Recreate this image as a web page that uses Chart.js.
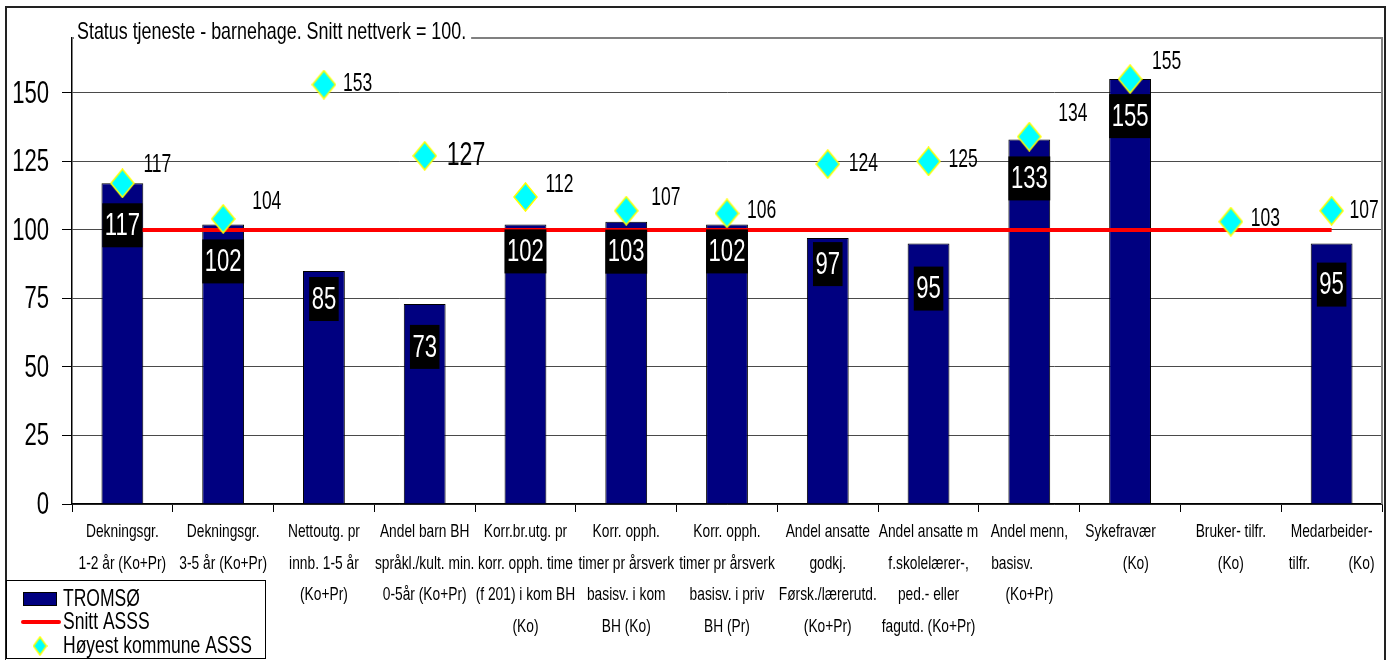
<!DOCTYPE html>
<html>
<head>
<meta charset="utf-8">
<title>Status tjeneste - barnehage</title>
<script src="https://cdn.jsdelivr.net/npm/chart.js@4.4.1/dist/chart.umd.min.js"></script>
<style>
  html, body { margin: 0; padding: 0; background: #fff; }
  canvas { display: block; }
</style>
</head>
<body>
<canvas id="barChart" width="1395" height="660"></canvas>
<script>
const categories = [
  ["Dekningsgr.", "1-2 år (Ko+Pr)"],
  ["Dekningsgr.", "3-5 år (Ko+Pr)"],
  ["Nettoutg. pr", "innb. 1-5 år", "(Ko+Pr)"],
  ["Andel barn BH", "språkl./kult. min.", "0-5år (Ko+Pr)"],
  ["Korr.br.utg. pr", "korr. opph. time", "(f 201) i kom BH", "(Ko)"],
  ["Korr. opph.", "timer pr årsverk", "basisv. i kom", "BH (Ko)"],
  ["Korr. opph.", "timer pr årsverk", "basisv. i priv", "BH (Pr)"],
  ["Andel ansatte", "godkj.", "Førsk./lærerutd.", "(Ko+Pr)"],
  ["Andel ansatte m", "f.skolelærer-,", "ped.- eller", "fagutd. (Ko+Pr)"],
  ["Andel menn,", "basisv.         ", "(Ko+Pr)"],
  ["Sykefravær     ", "   (Ko)"],
  ["Bruker- tilfr.", "(Ko)"],
  ["Medarbeider-", "tilfr.          (Ko)"]
];
const tromso = [117, 102, 85, 73, 102, 103, 102, 97, 95, 133, 155, null, 95];
const snittAsss = [100, 100, 100, 100, 100, 100, 100, 100, 100, 100, 100, 100, 100];
const hoyestAsss = [117, 104, 153, 127, 112, 107, 106, 124, 125, 134, 155, 103, 107];
const yTicks = [0, 25, 50, 75, 100, 125, 150];

const FONT = '"Liberation Sans", Arial, sans-serif';

// tall, narrow lettering like the original (Arial squeezed horizontally)
function narrowText(ctx, text, x, y, size, sx, align, color) {
  ctx.save();
  ctx.font = size + "px " + FONT;
  ctx.fillStyle = color;
  ctx.textAlign = align;
  ctx.textBaseline = "middle";
  ctx.translate(x, y);
  ctx.scale(sx, 1);
  ctx.fillText(text, 0, 0);
  ctx.restore();
}
function narrowWidth(ctx, text, size, sx) {
  ctx.save();
  ctx.font = size + "px " + FONT;
  const w = ctx.measureText(text).width * sx;
  ctx.restore();
  return w;
}

// cyan diamond with yellow edge, a little taller than wide
function makeDiamond(w, h) {
  const c = document.createElement("canvas");
  c.width = w;
  c.height = h;
  const g = c.getContext("2d");
  g.beginPath();
  g.moveTo(w / 2, 1);
  g.lineTo(w - 1, h / 2);
  g.lineTo(w / 2, h - 1);
  g.lineTo(1, h / 2);
  g.closePath();
  g.fillStyle = "#00ffff";
  g.fill();
  g.strokeStyle = "#ffff00";
  g.lineWidth = 1.5;
  g.stroke();
  return c;
}
const diamond = makeDiamond(25, 30);
const smallDiamond = makeDiamond(15, 20);

const decorations = {
  id: "decorations",
  beforeDraw(chart) {
    const ctx = chart.ctx;
    ctx.save();
    ctx.fillStyle = "#fff";
    ctx.fillRect(0, 0, chart.width, chart.height);
    ctx.restore();
  },
  beforeDatasetsDraw(chart) {
    const ctx = chart.ctx;
    const a = chart.chartArea;
    ctx.save();
    ctx.strokeStyle = "#808080";
    ctx.lineWidth = 2;
    ctx.beginPath();
    ctx.moveTo(a.left, a.top);
    ctx.lineTo(a.right, a.top);
    ctx.lineTo(a.right, a.bottom);
    ctx.stroke();
    ctx.restore();
  },
  afterDatasetsDraw(chart, args, opts) {
    const ctx = chart.ctx;
    // bar values in black boxes
    chart.getDatasetMeta(0).data.forEach((bar, i) => {
      const v = tromso[i];
      if (v === null) return;
      const txt = String(v);
      const w = narrowWidth(ctx, txt, 32, 0.69) + 5;
      const cy = bar.y + opts.boxDrop[i];
      ctx.fillStyle = "#000";
      ctx.fillRect(bar.x - w / 2, cy - 22, w, 44);
      narrowText(ctx, txt, bar.x, cy + 1, 32, 0.69, "center", "#fff");
    });
    // values next to the diamonds
    chart.getDatasetMeta(2).data.forEach((p, i) => {
      const size = i === 3 ? 33 : 25;
      narrowText(ctx, String(hoyestAsss[i]), p.x + opts.labelDx[i], p.y + opts.labelDy[i], size, 0.7, "left", "#000");
    });
  },
  afterDraw(chart) {
    const ctx = chart.ctx;
    const xs = chart.scales.x;
    const ys = chart.scales.y;
    // category labels, one line under the other
    categories.forEach((lines, i) => {
      const x = xs.getPixelForValue(i);
      lines.forEach((t, k) => narrowText(ctx, t, x, 532 + k * 31.5, 19, 0.725, "center", "#000"));
    });
    // value axis labels
    yTicks.forEach(v => narrowText(ctx, String(v), 49, ys.getPixelForValue(v) + 1, 32, 0.69, "right", "#000"));

    ctx.save();
    // outer frame
    ctx.strokeStyle = "#222";
    ctx.lineWidth = 2;
    ctx.strokeRect(6, 7, 1379, 660);
    // title sitting on the plot frame
    const title = "Status tjeneste - barnehage. Snitt nettverk = 100.";
    const tw = narrowWidth(ctx, title, 24, 0.745);
    ctx.fillStyle = "#fff";
    ctx.fillRect(74, 20, tw + 8, 22);
    ctx.restore();
    narrowText(ctx, title, 77, 32, 24, 0.745, "left", "#000");

    // legend box
    const ds = chart.data.datasets;
    ctx.save();
    ctx.fillStyle = "#fff";
    ctx.fillRect(6, 580, 260, 80);
    ctx.strokeStyle = "#000";
    ctx.lineWidth = 1;
    ctx.strokeRect(6.5, 580.5, 259, 78);
    ctx.fillStyle = ds[0].backgroundColor;
    ctx.fillRect(23, 592, 34, 14);
    ctx.strokeRect(23.5, 592.5, 33, 13);
    ctx.strokeStyle = ds[1].borderColor;
    ctx.lineWidth = 4;
    ctx.lineCap = "round";
    ctx.beginPath();
    ctx.moveTo(23, 622);
    ctx.lineTo(59, 622);
    ctx.stroke();
    ctx.drawImage(smallDiamond, 40 - 7.5, 646 - 10);
    ctx.restore();
    narrowText(ctx, ds[0].label, 63, 599, 24, 0.73, "left", "#000");
    narrowText(ctx, ds[1].label, 63, 622, 24, 0.73, "left", "#000");
    narrowText(ctx, ds[2].label, 63, 646, 24, 0.73, "left", "#000");
  }
};

document.addEventListener("DOMContentLoaded", function () {
  const ctx = document.getElementById("barChart").getContext("2d");
  new Chart(ctx, {
    type: "bar",
    data: {
      labels: categories,
      datasets: [
        {
          type: "bar",
          label: "TROMSØ",
          data: tromso,
          backgroundColor: "#000080",
          borderColor: "#000000",
          borderWidth: 1,
          barPercentage: 0.415,
          categoryPercentage: 1,
          order: 3
        },
        {
          type: "line",
          label: "Snitt ASSS",
          data: snittAsss,
          borderColor: "#ff0000",
          borderWidth: 4,
          pointRadius: 0,
          fill: false,
          order: 2
        },
        {
          type: "line",
          label: "Høyest kommune ASSS",
          data: hoyestAsss,
          showLine: false,
          pointStyle: diamond,
          pointRadius: 12,
          order: 1
        }
      ]
    },
    options: {
      responsive: false,
      animation: false,
      layout: { padding: { left: 0, right: 10, top: 38, bottom: 0 } },
      plugins: {
        legend: { display: false },
        tooltip: { enabled: false },
        decorations: {
          boxDrop: [42, 37, 28, 43, 27, 30, 27, 26, 45, 39, 37, 0, 41],
          labelDx: [21, 29, 19, 22, 20, 25, 20, 21, 20, 29, 22, 20, 18],
          labelDy: [-18, -17, 0, 0, -12, -13, -2, 0, -1, -23, -17, -3, 0]
        }
      },
      scales: {
        x: {
          offset: true,
          afterFit(scale) { scale.height = 156; },
          grid: {
            offset: true,
            drawOnChartArea: false,
            tickLength: 8,
            tickColor: "#000",
            tickWidth: 1
          },
          border: { color: "#000", width: 1.5 },
          ticks: { display: false, autoSkip: false }
        },
        y: {
          min: 0,
          max: 170,
          afterFit(scale) { scale.width = 72; },
          afterBuildTicks(scale) { scale.ticks = yTicks.map(v => ({ value: v })); },
          grid: {
            color: "#4a4a4a",
            lineWidth: 1,
            tickLength: 10,
            tickColor: "#000"
          },
          border: { color: "#000", width: 1.5 },
          ticks: { display: false }
        }
      }
    },
    plugins: [decorations]
  });
});
</script>
</body>
</html>
